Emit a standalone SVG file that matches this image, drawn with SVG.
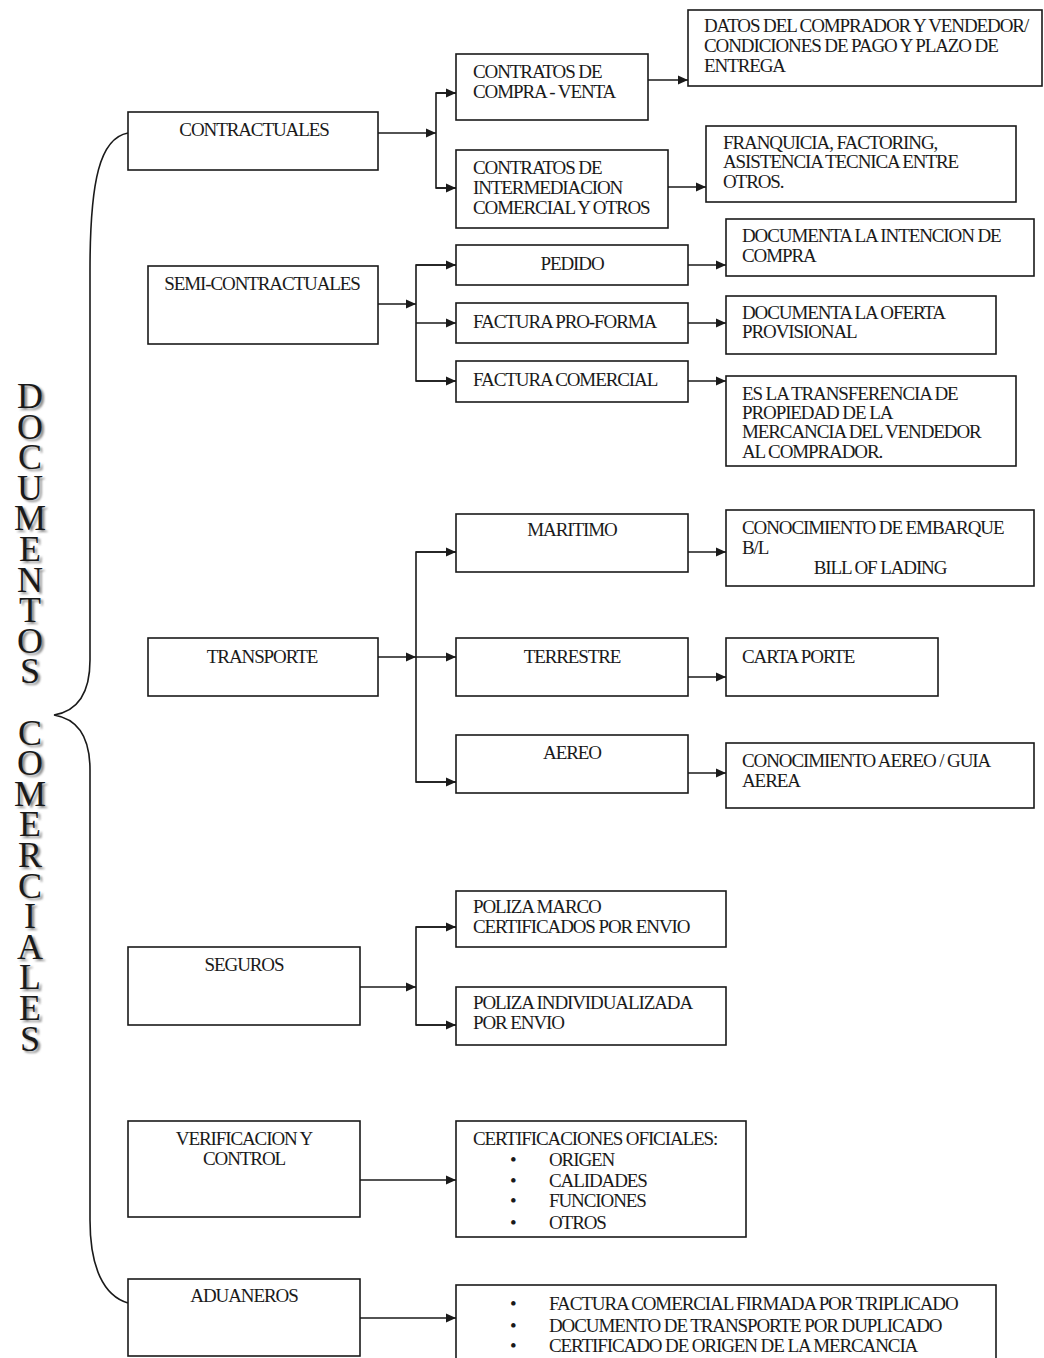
<svg xmlns="http://www.w3.org/2000/svg" width="1044" height="1358" viewBox="0 0 1044 1358">
<style>
.box{fill:#fff;stroke:#1a1a1a;stroke-width:1.6}
.t{font-family:"Liberation Serif","Times New Roman",serif;font-size:19px;fill:#1a1a1a;letter-spacing:-1.1px}
.c{text-anchor:middle}
.ln{fill:none;stroke:#1a1a1a;stroke-width:1.6}
.big{font-family:"Liberation Serif","Times New Roman",serif;font-size:36px;fill:#1a1a1a;text-anchor:middle}
</style>
<defs>
<marker id="ah" viewBox="0 0 10 10" refX="10" refY="5" markerWidth="10" markerHeight="10" markerUnits="userSpaceOnUse" orient="auto">
<path d="M0,0.5 L10,5 L0,9.5 z" fill="#1a1a1a"/>
</marker>
<filter id="blur" x="-30%" y="-5%" width="160%" height="110%"><feGaussianBlur stdDeviation="0.8"/></filter>
</defs>
<rect width="1044" height="1358" fill="#fff"/>

<g id="title">
<text class="big" style="fill:#8a8a8a" transform="translate(2.5,2)" filter="url(#blur)">
<tspan x="30" y="408">D</tspan><tspan x="30" dy="30.6">O</tspan><tspan x="30" dy="30.6">C</tspan><tspan x="30" dy="30.6">U</tspan><tspan x="30" dy="30.6">M</tspan><tspan x="30" dy="30.6">E</tspan><tspan x="30" dy="30.6">N</tspan><tspan x="30" dy="30.6">T</tspan><tspan x="30" dy="30.6">O</tspan><tspan x="30" dy="30.6">S</tspan><tspan x="30" dy="61.2">C</tspan><tspan x="30" dy="30.6">O</tspan><tspan x="30" dy="30.6">M</tspan><tspan x="30" dy="30.6">E</tspan><tspan x="30" dy="30.6">R</tspan><tspan x="30" dy="30.6">C</tspan><tspan x="30" dy="30.6">I</tspan><tspan x="30" dy="30.6">A</tspan><tspan x="30" dy="30.6">L</tspan><tspan x="30" dy="30.6">E</tspan><tspan x="30" dy="30.6">S</tspan>
</text>
<text class="big">
<tspan x="30" y="408">D</tspan><tspan x="30" dy="30.6">O</tspan><tspan x="30" dy="30.6">C</tspan><tspan x="30" dy="30.6">U</tspan><tspan x="30" dy="30.6">M</tspan><tspan x="30" dy="30.6">E</tspan><tspan x="30" dy="30.6">N</tspan><tspan x="30" dy="30.6">T</tspan><tspan x="30" dy="30.6">O</tspan><tspan x="30" dy="30.6">S</tspan><tspan x="30" dy="61.2">C</tspan><tspan x="30" dy="30.6">O</tspan><tspan x="30" dy="30.6">M</tspan><tspan x="30" dy="30.6">E</tspan><tspan x="30" dy="30.6">R</tspan><tspan x="30" dy="30.6">C</tspan><tspan x="30" dy="30.6">I</tspan><tspan x="30" dy="30.6">A</tspan><tspan x="30" dy="30.6">L</tspan><tspan x="30" dy="30.6">E</tspan><tspan x="30" dy="30.6">S</tspan>
</text>
</g>

<g id="connectors">
<path class="ln" d="M128,133 C100,138 90,180 90,270 L90,660 C90,700 72,712 54,715 C72,718 90,730 90,770 L90,1220 C90,1268 104,1296 128,1303"/>
<line class="ln" x1="378" y1="133" x2="436" y2="133" marker-end="url(#ah)"/>
<polyline class="ln" points="456,93 436,93 436,188 456,188"/>
<line class="ln" x1="436" y1="93" x2="456" y2="93" marker-end="url(#ah)"/>
<line class="ln" x1="436" y1="188" x2="456" y2="188" marker-end="url(#ah)"/>
<line class="ln" x1="648" y1="80" x2="688" y2="80" marker-end="url(#ah)"/>
<line class="ln" x1="668" y1="187" x2="706" y2="187" marker-end="url(#ah)"/>
<line class="ln" x1="378" y1="304" x2="416" y2="304" marker-end="url(#ah)"/>
<polyline class="ln" points="456,265 416,265 416,381 456,381"/>
<line class="ln" x1="416" y1="265" x2="456" y2="265" marker-end="url(#ah)"/>
<line class="ln" x1="416" y1="323" x2="456" y2="323" marker-end="url(#ah)"/>
<line class="ln" x1="416" y1="381" x2="456" y2="381" marker-end="url(#ah)"/>
<line class="ln" x1="688" y1="265" x2="726" y2="265" marker-end="url(#ah)"/>
<line class="ln" x1="688" y1="323" x2="726" y2="323" marker-end="url(#ah)"/>
<line class="ln" x1="688" y1="381" x2="726" y2="381" marker-end="url(#ah)"/>
<line class="ln" x1="378" y1="657" x2="416" y2="657" marker-end="url(#ah)"/>
<polyline class="ln" points="456,552 416,552 416,782 456,782"/>
<line class="ln" x1="416" y1="552" x2="456" y2="552" marker-end="url(#ah)"/>
<line class="ln" x1="416" y1="657" x2="456" y2="657" marker-end="url(#ah)"/>
<line class="ln" x1="416" y1="782" x2="456" y2="782" marker-end="url(#ah)"/>
<line class="ln" x1="688" y1="552" x2="726" y2="552" marker-end="url(#ah)"/>
<line class="ln" x1="688" y1="677" x2="726" y2="677" marker-end="url(#ah)"/>
<line class="ln" x1="688" y1="773" x2="726" y2="773" marker-end="url(#ah)"/>
<line class="ln" x1="360" y1="987" x2="416" y2="987" marker-end="url(#ah)"/>
<polyline class="ln" points="456,927 416,927 416,1025 456,1025"/>
<line class="ln" x1="416" y1="927" x2="456" y2="927" marker-end="url(#ah)"/>
<line class="ln" x1="416" y1="1025" x2="456" y2="1025" marker-end="url(#ah)"/>
<line class="ln" x1="360" y1="1180" x2="456" y2="1180" marker-end="url(#ah)"/>
<line class="ln" x1="360" y1="1318" x2="456" y2="1318" marker-end="url(#ah)"/>
</g>

<g id="contractuales"><rect class="box" x="128" y="112" width="250" height="58"/><text class="t c" x="254" y="136">CONTRACTUALES</text></g>
<g id="compraventa"><rect class="box" x="456" y="54" width="192" height="66"/><text class="t" x="473" y="78">CONTRATOS DE</text><text class="t" x="473" y="98">COMPRA - VENTA</text></g>
<g id="datos"><rect class="box" x="688" y="10" width="354" height="76"/><text class="t" x="704" y="32">DATOS DEL COMPRADOR Y VENDEDOR/</text><text class="t" x="704" y="52">CONDICIONES DE PAGO Y PLAZO DE</text><text class="t" x="704" y="72">ENTREGA</text></g>
<g id="intermediacion"><rect class="box" x="456" y="150" width="212" height="78"/><text class="t" x="473" y="174">CONTRATOS DE</text><text class="t" x="473" y="194">INTERMEDIACION</text><text class="t" x="473" y="214">COMERCIAL Y OTROS</text></g>
<g id="franquicia"><rect class="box" x="706" y="126" width="310" height="76"/><text class="t" x="723" y="149">FRANQUICIA, FACTORING,</text><text class="t" x="723" y="168">ASISTENCIA TECNICA ENTRE</text><text class="t" x="723" y="188">OTROS.</text></g>

<g id="semicontractuales"><rect class="box" x="148" y="266" width="230" height="78"/><text class="t c" x="262" y="290">SEMI-CONTRACTUALES</text></g>
<g id="pedido"><rect class="box" x="456" y="245" width="232" height="40"/><text class="t c" x="572" y="270">PEDIDO</text></g>
<g id="intencion"><rect class="box" x="726" y="219" width="308" height="57"/><text class="t" x="742" y="242">DOCUMENTA LA INTENCION DE</text><text class="t" x="742" y="262">COMPRA</text></g>
<g id="proforma"><rect class="box" x="456" y="303" width="232" height="40"/><text class="t" x="473" y="328">FACTURA PRO-FORMA</text></g>
<g id="oferta"><rect class="box" x="726" y="296" width="270" height="58"/><text class="t" x="742" y="319">DOCUMENTA LA OFERTA</text><text class="t" x="742" y="338">PROVISIONAL</text></g>
<g id="comercial"><rect class="box" x="456" y="361" width="232" height="41"/><text class="t" x="473" y="386">FACTURA COMERCIAL</text></g>
<g id="transferencia"><rect class="box" x="726" y="376" width="290" height="90"/><text class="t" x="742" y="400">ES LA TRANSFERENCIA DE</text><text class="t" x="742" y="419">PROPIEDAD DE LA</text><text class="t" x="742" y="438">MERCANCIA DEL VENDEDOR</text><text class="t" x="742" y="458">AL COMPRADOR.</text></g>

<g id="transporte"><rect class="box" x="148" y="638" width="230" height="58"/><text class="t c" x="262" y="663">TRANSPORTE</text></g>
<g id="maritimo"><rect class="box" x="456" y="514" width="232" height="58"/><text class="t c" x="572" y="536">MARITIMO</text></g>
<g id="embarque"><rect class="box" x="726" y="510" width="308" height="76"/><text class="t" x="742" y="534">CONOCIMIENTO DE EMBARQUE</text><text class="t" x="742" y="554">B/L</text><text class="t c" x="880" y="574">BILL OF LADING</text></g>
<g id="terrestre"><rect class="box" x="456" y="638" width="232" height="58"/><text class="t c" x="572" y="663">TERRESTRE</text></g>
<g id="cartaporte"><rect class="box" x="726" y="638" width="212" height="58"/><text class="t" x="742" y="663">CARTA PORTE</text></g>
<g id="aereo"><rect class="box" x="456" y="735" width="232" height="58"/><text class="t c" x="572" y="759">AEREO</text></g>
<g id="guia"><rect class="box" x="726" y="743" width="308" height="65"/><text class="t" x="742" y="767">CONOCIMIENTO AEREO / GUIA</text><text class="t" x="742" y="787">AEREA</text></g>

<g id="seguros"><rect class="box" x="128" y="947" width="232" height="78"/><text class="t c" x="244" y="971">SEGUROS</text></g>
<g id="polizamarco"><rect class="box" x="456" y="891" width="270" height="56"/><text class="t" x="473" y="913">POLIZA MARCO</text><text class="t" x="473" y="933">CERTIFICADOS POR ENVIO</text></g>
<g id="polizaind"><rect class="box" x="456" y="987" width="270" height="58"/><text class="t" x="473" y="1009">POLIZA INDIVIDUALIZADA</text><text class="t" x="473" y="1029">POR ENVIO</text></g>

<g id="verificacion"><rect class="box" x="128" y="1121" width="232" height="96"/><text class="t c" x="244" y="1145">VERIFICACION Y</text><text class="t c" x="244" y="1165">CONTROL</text></g>
<g id="certificaciones"><rect class="box" x="456" y="1121" width="290" height="116"/><text class="t" x="473" y="1145">CERTIFICACIONES OFICIALES:</text>
<text class="t" x="510" y="1166">•</text><text class="t" x="549" y="1166">ORIGEN</text>
<text class="t" x="510" y="1187">•</text><text class="t" x="549" y="1187">CALIDADES</text>
<text class="t" x="510" y="1207">•</text><text class="t" x="549" y="1207">FUNCIONES</text>
<text class="t" x="510" y="1229">•</text><text class="t" x="549" y="1229">OTROS</text></g>

<g id="aduaneros"><rect class="box" x="128" y="1279" width="232" height="77"/><text class="t c" x="244" y="1302">ADUANEROS</text></g>
<g id="docsaduana"><rect class="box" x="456" y="1285" width="540" height="80"/>
<text class="t" x="510" y="1310">•</text><text class="t" x="549" y="1310">FACTURA COMERCIAL FIRMADA POR TRIPLICADO</text>
<text class="t" x="510" y="1332">•</text><text class="t" x="549" y="1332">DOCUMENTO DE TRANSPORTE POR DUPLICADO</text>
<text class="t" x="510" y="1352">•</text><text class="t" x="549" y="1352">CERTIFICADO DE ORIGEN DE LA MERCANCIA</text></g>
</svg>
